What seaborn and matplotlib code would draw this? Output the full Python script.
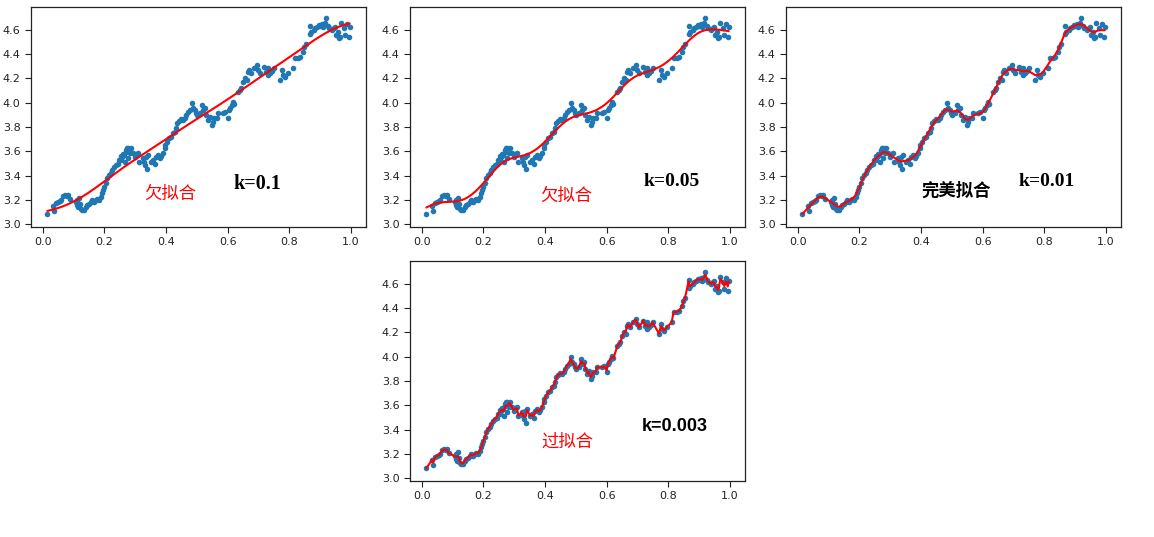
import numpy as np
import pandas as pd
import matplotlib
matplotlib.use("Agg")
import matplotlib.pyplot as plt
import seaborn as sns

# ---- data ----
x_vals = [
    0.015, 0.033, 0.036, 0.042, 0.049, 0.056, 0.060, 0.067, 0.072, 0.078,
    0.083, 0.087, 0.107, 0.110, 0.112, 0.116, 0.118, 0.121, 0.123, 0.129,
    0.134, 0.139, 0.145, 0.150, 0.156, 0.161, 0.167, 0.172, 0.177, 0.183,
    0.188, 0.194, 0.197, 0.199, 0.205, 0.210, 0.216, 0.221, 0.226, 0.232,
    0.237, 0.243, 0.248, 0.253, 0.255, 0.256, 0.259, 0.265, 0.266, 0.270,
    0.271, 0.274, 0.276, 0.278, 0.282, 0.285, 0.293, 0.298, 0.303, 0.309,
    0.314, 0.325, 0.330, 0.333, 0.336, 0.338, 0.342, 0.352, 0.358, 0.363,
    0.369, 0.374, 0.379, 0.385, 0.390, 0.396, 0.398, 0.404, 0.410, 0.417,
    0.423, 0.428, 0.432, 0.437, 0.442, 0.448, 0.455, 0.461, 0.466, 0.470,
    0.477, 0.483, 0.488, 0.493, 0.497, 0.502, 0.510, 0.517, 0.520, 0.528,
    0.531, 0.537, 0.542, 0.548, 0.551, 0.556, 0.564, 0.569, 0.586, 0.593,
    0.600, 0.604, 0.607, 0.613, 0.618, 0.622, 0.635, 0.640, 0.645, 0.651,
    0.656, 0.662, 0.665, 0.669, 0.676, 0.687, 0.694, 0.700, 0.705, 0.719,
    0.725, 0.730, 0.732, 0.738, 0.743, 0.749, 0.770, 0.776, 0.781, 0.787,
    0.795, 0.811, 0.817, 0.828, 0.835, 0.846, 0.849, 0.854, 0.866, 0.868,
    0.871, 0.879, 0.884, 0.890, 0.895, 0.900, 0.906, 0.911, 0.917, 0.920,
    0.926, 0.930, 0.939, 0.944, 0.949, 0.952, 0.958, 0.961, 0.964, 0.969,
    0.977, 0.982, 0.987, 0.993, 0.996,
]
y_vals = [
    3.085, 3.153, 3.112, 3.173, 3.186, 3.190, 3.205, 3.233, 3.240, 3.230,
    3.240, 3.210, 3.186, 3.160, 3.205, 3.145, 3.220, 3.170, 3.130, 3.120,
    3.120, 3.145, 3.160, 3.170, 3.186, 3.200, 3.186, 3.200, 3.210, 3.205,
    3.227, 3.255, 3.280, 3.310, 3.337, 3.380, 3.410, 3.420, 3.450, 3.475,
    3.490, 3.500, 3.530, 3.560, 3.529, 3.556, 3.583, 3.570, 3.515, 3.610,
    3.597, 3.625, 3.543, 3.630, 3.584, 3.632, 3.584, 3.556, 3.575, 3.584,
    3.515, 3.543, 3.515, 3.488, 3.556, 3.455, 3.570, 3.515, 3.529, 3.500,
    3.556, 3.570, 3.543, 3.565, 3.584, 3.625, 3.652, 3.680, 3.707, 3.720,
    3.748, 3.762, 3.790, 3.830, 3.850, 3.863, 3.858, 3.871, 3.900, 3.926,
    3.940, 3.995, 3.954, 3.940, 3.913, 3.900, 3.913, 3.981, 3.940, 3.954,
    3.900, 3.858, 3.886, 3.817, 3.845, 3.871, 3.871, 3.913, 3.913, 3.921,
    3.872, 3.940, 3.959, 3.981, 4.008, 3.986, 4.090, 4.104, 4.118, 4.173,
    4.200, 4.190, 4.255, 4.269, 4.242, 4.288, 4.310, 4.269, 4.242, 4.297,
    4.255, 4.228, 4.283, 4.242, 4.260, 4.283, 4.190, 4.269, 4.228, 4.215,
    4.242, 4.283, 4.365, 4.370, 4.378, 4.420, 4.460, 4.480, 4.633, 4.562,
    4.584, 4.598, 4.612, 4.625, 4.639, 4.633, 4.644, 4.625, 4.653, 4.694,
    4.633, 4.617, 4.598, 4.617, 4.625, 4.557, 4.584, 4.530, 4.543, 4.653,
    4.612, 4.557, 4.644, 4.543, 4.625,
]
k_values = [0.1, 0.05, 0.01, 0.003]
fit_labels = ["欠拟合", "欠拟合", "完美拟合", "过拟合"]
fit_colors = ["red", "red", "black", "red"]
k_labels = ["k=0.1", "k=0.05", "k=0.01", "k=0.003"]


def lwlr_curve(xs, ys, k):
    X = np.column_stack([np.ones_like(xs), xs])
    out = np.empty_like(xs)
    for i, x0 in enumerate(xs):
        w = np.exp(-((xs - x0) ** 2) / (2.0 * k * k))
        XtWX = X.T @ (X * w[:, None])
        XtWy = X.T @ (w * ys)
        try:
            beta = np.linalg.solve(XtWX, XtWy)
        except np.linalg.LinAlgError:
            beta = np.linalg.pinv(XtWX) @ XtWy
        out[i] = beta[0] + beta[1] * x0
    return out


xs = np.array(x_vals)
ys = np.array(y_vals)
order = np.argsort(xs, kind="stable")
xs, ys = xs[order], ys[order]
df = pd.DataFrame({"x": xs, "y": ys})

sns.set_style("ticks")
plt.rcParams["font.family"] = ["DejaVu Sans"]

W, H = 1154, 537
fig = plt.figure(figsize=(W / 100, H / 100), dpi=100)

# axes boxes in pixels: (left, top, width, height)
boxes = [(31, 7, 335, 220), (410, 7, 335, 220), (786, 7, 335, 220), (410, 261, 335, 220)]
# text positions in data coords
fit_pos = [(0.33, 3.25), (0.384, 3.233), (0.401, 3.28), (0.387, 3.30)]
k_pos = [(0.62, 3.33), (0.719, 3.356), (0.716, 3.356), (0.715, 3.424)]
k_fonts = [["Liberation Serif"], ["Liberation Serif"], ["Liberation Serif"], ["Liberation Sans"]]
k_sizes = [14.5, 14.0, 14.0, 13.0]
fit_weights = ["normal", "normal", "bold", "normal"]

for i, (l, t, w, h) in enumerate(boxes):
    ax = fig.add_axes([l / W, (H - t - h) / H, w / W, h / H])
    sns.scatterplot(data=df, x="x", y="y", ax=ax, s=16, color="#1f77b4",
                    linewidth=0, legend=False)
    fit = lwlr_curve(xs, ys, k_values[i])
    sns.lineplot(x=xs, y=fit, ax=ax, color="red", linewidth=1.5,
                 estimator=None, sort=False)
    ax.set_xlim(-0.038, 1.049)
    ax.set_ylim(2.979, 4.787)
    ax.set_xticks([0.0, 0.2, 0.4, 0.6, 0.8, 1.0])
    ax.set_yticks([3.0, 3.2, 3.4, 3.6, 3.8, 4.0, 4.2, 4.4, 4.6])
    ax.set_xlabel("")
    ax.set_ylabel("")
    ax.tick_params(labelsize=8, colors="#222222", length=4, width=0.8)
    for sp in ax.spines.values():
        sp.set_color("#222222")
        sp.set_linewidth(0.9)
    ax.text(fit_pos[i][0], fit_pos[i][1], fit_labels[i], color=fit_colors[i],
            fontsize=12.5, fontweight=fit_weights[i],
            family=["Noto Sans CJK SC", "DejaVu Sans"],
            ha="left", va="center")
    ax.text(k_pos[i][0], k_pos[i][1], k_labels[i], color="black",
            fontsize=k_sizes[i], fontweight="bold", family=k_fonts[i],
            ha="left", va="center")

fig.savefig("out.png", dpi=100)
